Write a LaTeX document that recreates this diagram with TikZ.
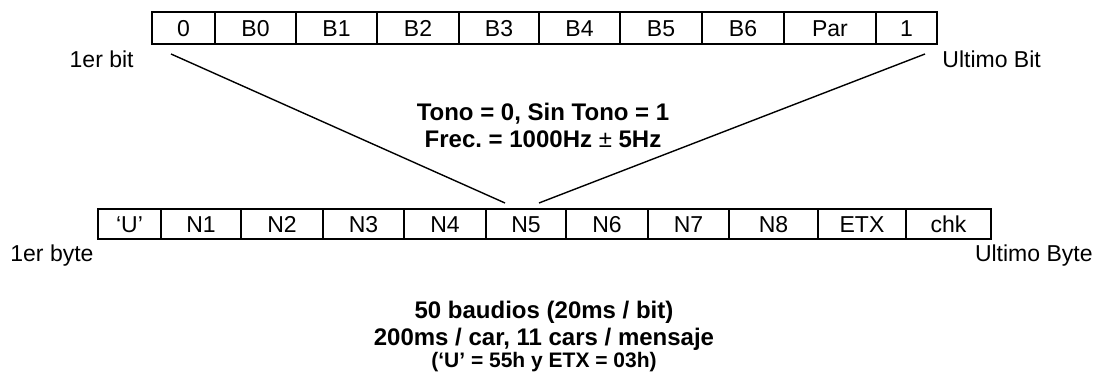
\documentclass[tikz,border=0pt]{standalone}
\usepackage{fontspec}
\setmainfont{Liberation Sans}
\usetikzlibrary{positioning}

\begin{document}
\begin{tikzpicture}[x=0.5pt, y=-0.5pt, font=\fontsize{11.5}{13.5}\selectfont,
    box/.style={line width=1pt},
    cell/.style={text height=8.2pt, text depth=0pt},
    diag/.style={line width=0.7pt},
    side/.style={inner sep=0pt},
    note/.style={inner sep=0pt, align=center, anchor=north, font=\bfseries\fontsize{12}{13.5}\selectfont}]

    \useasboundingbox (0,0) rectangle (1097,373);

    % one character, bit by bit
    \draw[box] (152,12) rectangle node[cell] (bit_start) {0} (215,44);
    \draw[box] (215,12) rectangle node[cell] (bit_b0) {B0} (296,44);
    \draw[box] (296,12) rectangle node[cell] (bit_b1) {B1} (377,44);
    \draw[box] (377,12) rectangle node[cell] (bit_b2) {B2} (459,44);
    \draw[box] (459,12) rectangle node[cell] (bit_b3) {B3} (539,44);
    \draw[box] (539,12) rectangle node[cell] (bit_b4) {B4} (620,44);
    \draw[box] (620,12) rectangle node[cell] (bit_b5) {B5} (702,44);
    \draw[box] (702,12) rectangle node[cell] (bit_b6) {B6} (784,44);
    \draw[box] (784,12) rectangle node[cell] (bit_par) {Par} (876,44);
    \draw[box] (876,12) rectangle node[cell] (bit_stop) {1} (937,44);

    \node[side, anchor=base east] at (134,68) (first_bit_label) {1er bit};
    \node[side, anchor=base west] at (942,68) (last_bit_label) {Ultimo Bit};

    % the message, byte by byte
    \draw[box] (98,209)  rectangle node[cell] (byte_u) {‘U’} (161,239);
    \draw[box] (161,209) rectangle node[cell] (byte_n1) {N1} (241,239);
    \draw[box] (241,209) rectangle node[cell] (byte_n2) {N2} (323,239);
    \draw[box] (323,209) rectangle node[cell] (byte_n3) {N3} (404,239);
    \draw[box] (404,209) rectangle node[cell] (byte_n4) {N4} (486,239);
    \draw[box] (486,209) rectangle node[cell] (byte_n5) {N5} (566,239);
    \draw[box] (566,209) rectangle node[cell] (byte_n6) {N6} (648,239);
    \draw[box] (648,209) rectangle node[cell] (byte_n7) {N7} (729,239);
    \draw[box] (729,209) rectangle node[cell] (byte_n8) {N8} (818,239);
    \draw[box] (818,209) rectangle node[cell] (byte_etx) {ETX} (906,239);
    \draw[box] (906,209) rectangle node[cell] (byte_chk) {chk} (991,239);

    \node[side, anchor=base west] at (10,262) (first_byte_label) {1er byte};
    \node[side, anchor=base east] at (1093,262) (last_byte_label) {Ultimo Byte};

    % zoom lines
    \coordinate (first_bit) at (171,54);
    \coordinate (last_bit) at (925,54);
    \coordinate (n5_left) at (505,203);
    \coordinate (n5_right) at (539,203);

    \draw[diag] (first_bit) -- (n5_left);
    \draw[diag] (last_bit) -- (n5_right);

    \node[note] at (543,103) (tone_note) {Tono = 0, Sin Tono = 1\\Frec.\ = 1000Hz {\mdseries ±} 5Hz};

    \node[note] at (544,301) (rate_note) {50 baudios (20ms / bit)\\200ms / car, 11 cars / mensaje\\[-2.5pt]{\fontsize{10.5}{12}\selectfont (‘U’ = 55h y ETX = 03h)}};

  \end{tikzpicture}
\end{document}
